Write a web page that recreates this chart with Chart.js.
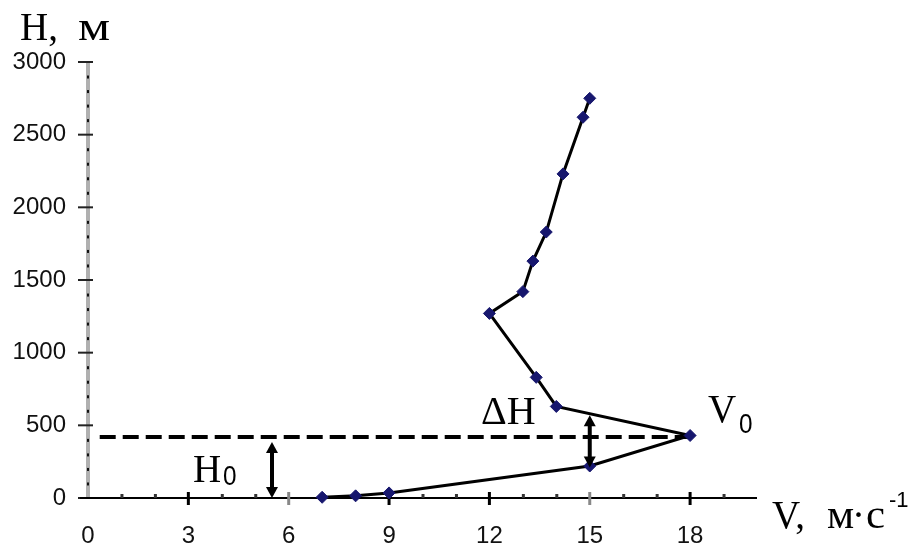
<!DOCTYPE html>
<html>
<head>
<meta charset="utf-8">
<script src="https://cdn.jsdelivr.net/npm/chart.js@4"></script>
<style>
  body { margin: 0; background: #fff; }
  canvas { display: block; }
</style>
</head>
<body>
<canvas id="chart" width="913" height="547"></canvas>
<script>
// wind speed profile, V (m/s) vs H (m)
const speed = [7, 8, 9, 15, 18, 14, 13.4, 12, 13, 13.3, 13.7, 14.2, 14.8, 15];
const height = [5, 15, 35, 220, 430, 630, 830, 1270, 1420, 1630, 1830, 2230, 2620, 2750];

const xTicks = [0, 3, 6, 9, 12, 15, 18];
const yTicks = [0, 500, 1000, 1500, 2000, 2500, 3000];

// jet level and the two markers
const jetSpeed = 18;
const jetHeight = 420;
const h0ArrowAt = 5.5;
const dhArrowAt = 15;
const dhRange = [210, 570];

const SERIF = '"Liberation Serif", "DejaVu Serif", serif';
const SANS = '"Liberation Sans", Arial, sans-serif';

function arrow(ctx, x, ya, yb) {
  // double headed vertical arrow, ya below yb
  var head = 11, half = 6;
  ctx.save();
  ctx.strokeStyle = '#000';
  ctx.fillStyle = '#000';
  ctx.lineWidth = 4;
  ctx.beginPath();
  ctx.moveTo(x, ya - head + 2);
  ctx.lineTo(x, yb + head - 2);
  ctx.stroke();
  ctx.beginPath();
  ctx.moveTo(x, ya);
  ctx.lineTo(x - half, ya - head);
  ctx.lineTo(x + half, ya - head);
  ctx.closePath();
  ctx.fill();
  ctx.beginPath();
  ctx.moveTo(x, yb);
  ctx.lineTo(x - half, yb + head);
  ctx.lineTo(x + half, yb + head);
  ctx.closePath();
  ctx.fill();
  ctx.restore();
}

function label(ctx, str, x, y, font, sx) {
  ctx.save();
  ctx.translate(x, y);
  ctx.scale(sx || 1, 1);
  ctx.font = font;
  ctx.fillText(str, 0, 0);
  ctx.restore();
}

const axesPlugin = {
  id: 'axesPlugin',
  beforeDatasetsDraw(chart) {
    var ctx = chart.ctx;
    var xs = chart.scales.x, ys = chart.scales.y;
    var x0 = xs.getPixelForValue(0), y0 = ys.getPixelForValue(0);
    ctx.save();
    // y axis
    ctx.strokeStyle = '#b0b0b0';
    ctx.lineWidth = 4;
    ctx.beginPath();
    ctx.moveTo(x0, ys.getPixelForValue(3000));
    ctx.lineTo(x0, y0);
    ctx.stroke();
    ctx.fillStyle = '#111';
    for (var h = 100; h < 3000; h += 100) {
      if (h % 500 === 0) continue;
      ctx.fillRect(x0 - 1, ys.getPixelForValue(h) - 1, 2, 3);
    }
    ctx.strokeStyle = '#222';
    ctx.lineWidth = 2;
    yTicks.forEach(function (v) {
      var py = ys.getPixelForValue(v);
      ctx.beginPath();
      ctx.moveTo(x0 - 10, py);
      ctx.lineTo(x0 + 5, py);
      ctx.stroke();
    });
    // x axis
    ctx.strokeStyle = '#000';
    ctx.lineWidth = 2;
    ctx.beginPath();
    ctx.moveTo(x0 - 8, y0);
    ctx.lineTo(xs.getPixelForValue(20), y0);
    ctx.stroke();
    for (var v = 1; v < 20; v++) {
      var px = xs.getPixelForValue(v);
      if (v % 3 === 0 && v <= 18) {
        ctx.lineWidth = 3;
        ctx.strokeStyle = (v === 6 || v === 15) ? '#888' : '#000';
        ctx.beginPath();
        ctx.moveTo(px, y0 - 6);
        ctx.lineTo(px, y0 + 7);
        ctx.stroke();
      } else {
        ctx.fillStyle = '#333';
        ctx.fillRect(px - 1, y0 - 4, 3, 4);
      }
    }
    // dashed jet level
    ctx.strokeStyle = '#000';
    ctx.lineWidth = 4;
    ctx.setLineDash([16, 7]);
    ctx.beginPath();
    ctx.moveTo(xs.getPixelForValue(0.35), ys.getPixelForValue(jetHeight));
    ctx.lineTo(xs.getPixelForValue(jetSpeed), ys.getPixelForValue(jetHeight));
    ctx.stroke();
    ctx.restore();
  },
  afterDatasetsDraw(chart) {
    var ctx = chart.ctx;
    var xs = chart.scales.x, ys = chart.scales.y;
    arrow(ctx, xs.getPixelForValue(h0ArrowAt), ys.getPixelForValue(0), ys.getPixelForValue(jetHeight) + 5);
    arrow(ctx, xs.getPixelForValue(dhArrowAt), ys.getPixelForValue(dhRange[0]), ys.getPixelForValue(dhRange[1]));

    ctx.save();
    ctx.fillStyle = '#000';
    ctx.textBaseline = 'alphabetic';
    ctx.textAlign = 'left';
    var big = '39px ' + SERIF;
    // axis titles
    label(ctx, 'H,', 20, 40, big);
    label(ctx, 'м', 78, 40, big, 1.3);
    label(ctx, 'V,', 772, 528, big);
    label(ctx, 'м', 827, 528, big, 1.1);
    label(ctx, '·', 852, 528, big);
    label(ctx, 'с', 866, 528, big, 1.1);
    label(ctx, '-1', 889, 507, '22px ' + SANS);
    // annotations
    label(ctx, 'ΔH', 481, 424, '40px ' + SERIF);
    label(ctx, 'V', 708, 422, big);
    label(ctx, '0', 739, 433, '27px ' + SANS, 0.9);
    label(ctx, 'H', 193, 482, big);
    label(ctx, '0', 223, 485, '27px ' + SANS, 0.9);
    ctx.restore();
  }
};

new Chart(document.getElementById('chart'), {
  type: 'line',
  data: {
    datasets: [{
      data: speed.map(function (v, i) { return { x: v, y: height[i] }; }),
      borderColor: '#000',
      borderWidth: 3,
      pointStyle: 'rectRot',
      pointRadius: 6,
      pointBackgroundColor: '#17176e',
      pointBorderColor: '#17176e',
      pointBorderWidth: 1,
      tension: 0,
      clip: false
    }]
  },
  options: {
    responsive: false,
    animation: false,
    layout: { padding: { top: 62, right: 156, left: 0, bottom: 0 } },
    plugins: {
      legend: { display: false },
      tooltip: { enabled: false }
    },
    scales: {
      x: {
        type: 'linear',
        min: 0,
        max: 20,
        afterFit: function (scale) { scale.height = 49; },
        afterBuildTicks: function (scale) {
          scale.ticks = xTicks.map(function (v) { return { value: v }; });
        },
        grid: { display: false },
        border: { display: false },
        ticks: {
          autoSkip: false,
          maxRotation: 0,
          padding: 16,
          color: '#111',
          font: { family: SANS, size: 24 },
          callback: function (v) { return String(v); }
        }
      },
      y: {
        type: 'linear',
        min: 0,
        max: 3000,
        afterFit: function (scale) { scale.width = 88; },
        afterBuildTicks: function (scale) {
          scale.ticks = yTicks.map(function (v) { return { value: v }; });
        },
        grid: { display: false },
        border: { display: false },
        ticks: {
          padding: 14,
          color: '#111',
          font: { family: SANS, size: 24 },
          callback: function (v) { return String(v); }
        }
      }
    }
  },
  plugins: [axesPlugin]
});
</script>
</body>
</html>
